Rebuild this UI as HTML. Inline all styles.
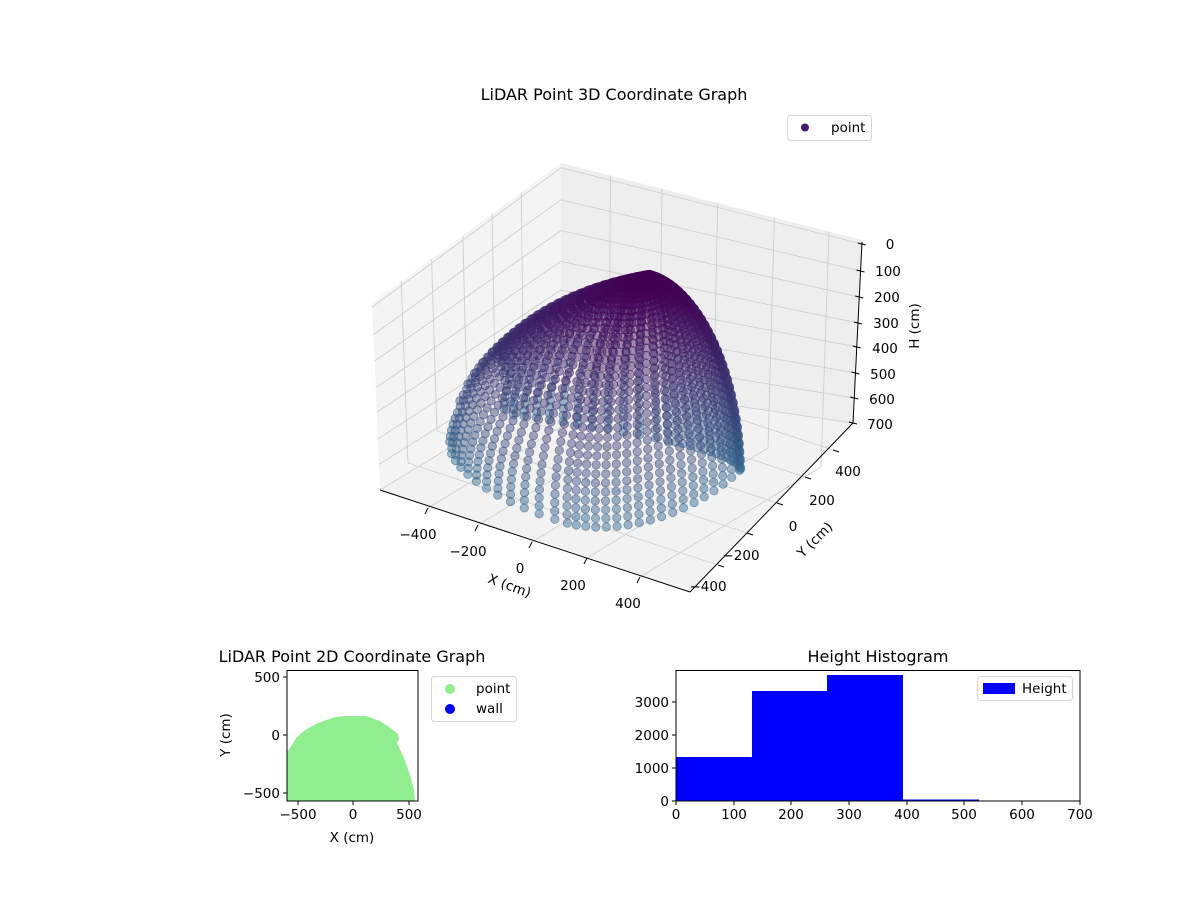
<!DOCTYPE html>
<html><head><meta charset="utf-8"><style>
body{margin:0;background:#fff}
svg{display:block;font-family:"DejaVu Sans","Liberation Sans",sans-serif}
</style></head><body>
<svg id="s" width="1200" height="900" viewBox="0 0 1200 900" xmlns="http://www.w3.org/2000/svg">
<rect width="1200" height="900" fill="#fff"/>
<text x="614" y="100" font-size="16" text-anchor="middle">LiDAR Point 3D Coordinate Graph</text>
<polygon points="561,163 372,303 380,490 561,380" fill="#f4f4f4"/>
<polygon points="561,163 862,240 853,423 561,380" fill="#eeeeee"/>
<polygon points="561,380 380,490 690,592 853,423" fill="#f2f2f2"/>
<g id="grid" stroke="#d0d0d0" stroke-width="0.9" fill="none"></g>
<g id="pts"></g>
<line x1="380" y1="490" x2="690" y2="592" stroke="#000" stroke-width="1"/>
<line x1="690" y1="592" x2="853" y2="423" stroke="#000" stroke-width="1"/>
<line x1="862" y1="242" x2="853" y2="423" stroke="#000" stroke-width="1"/>
<g id="ticks" stroke="#000" stroke-width="1"></g>
<g font-size="13.5" text-anchor="middle">
<text x="418" y="539">−400</text><text x="468" y="556">−200</text><text x="520" y="573">0</text><text x="573" y="590">200</text><text x="628" y="608">400</text>
<text x="708" y="591">−400</text><text x="741" y="560">−200</text><text x="793" y="531">0</text><text x="822" y="505">200</text><text x="848" y="476">400</text>
<text x="890" y="249">0</text><text x="888" y="276">100</text><text x="887" y="302">200</text><text x="886" y="328">300</text><text x="885" y="353">400</text><text x="883" y="379">500</text><text x="882" y="404">600</text><text x="880" y="429">700</text>
</g>
<text font-size="13.5" text-anchor="middle" transform="translate(508,590) rotate(20)">X (cm)</text>
<text font-size="13.5" text-anchor="middle" transform="translate(818,543) rotate(-45)">Y (cm)</text>
<text font-size="13.5" text-anchor="middle" transform="translate(919,326) rotate(-90)">H (cm)</text>
<rect x="787.5" y="115.5" width="84" height="25" rx="3" fill="#fff" stroke="#d6d6d6"/>
<circle cx="805" cy="127.5" r="4" fill="#481a6c"/>
<text x="831" y="132" font-size="13.5">point</text>

<text x="352" y="662" font-size="16" text-anchor="middle">LiDAR Point 2D Coordinate Graph</text>
<polygon points="287,801 287,752 292,745 296,738 305,730 318,723 335,717 345,716 366,716 380,721 392,729 398,734 399,739 397,743 404,758 410,775 414,790 415,801" fill="#90ee90"/>
<rect x="287" y="670.5" width="131" height="130.5" fill="none" stroke="#000"/>
<g stroke="#000"><line x1="298" y1="801" x2="298" y2="805"/><line x1="353" y1="801" x2="353" y2="805"/><line x1="409" y1="801" x2="409" y2="805"/>
<line x1="283" y1="677" x2="287" y2="677"/><line x1="283" y1="735" x2="287" y2="735"/><line x1="283" y1="793" x2="287" y2="793"/></g>
<g font-size="13.5"><text x="298" y="819" text-anchor="middle">−500</text><text x="353" y="819" text-anchor="middle">0</text><text x="409" y="819" text-anchor="middle">500</text>
<text x="280" y="682" text-anchor="end">500</text><text x="280" y="740" text-anchor="end">0</text><text x="280" y="798" text-anchor="end">−500</text>
<text x="352" y="842" text-anchor="middle">X (cm)</text>
<text text-anchor="middle" transform="translate(230,735) rotate(-90)">Y (cm)</text></g>
<rect x="431.5" y="676.5" width="85" height="45" rx="3" fill="#fff" stroke="#d6d6d6"/>
<circle cx="450" cy="689" r="5" fill="#90ee90"/><circle cx="450" cy="709" r="5" fill="#0000ff"/>
<g font-size="13.5"><text x="476" y="693">point</text><text x="476" y="713">wall</text></g>

<text x="878" y="662" font-size="16" text-anchor="middle">Height Histogram</text>
<rect x="676" y="757" width="76" height="44" fill="#0000ff"/>
<rect x="752" y="691" width="76" height="110" fill="#0000ff"/>
<rect x="827" y="675" width="76" height="126" fill="#0000ff"/>
<rect x="903" y="799.5" width="76" height="1.5" fill="#0000ff"/>
<rect x="676" y="670.5" width="404" height="130.5" fill="none" stroke="#000"/>
<g stroke="#000"><line x1="676" y1="801" x2="676" y2="805"/><line x1="734" y1="801" x2="734" y2="805"/><line x1="791" y1="801" x2="791" y2="805"/><line x1="849" y1="801" x2="849" y2="805"/><line x1="907" y1="801" x2="907" y2="805"/><line x1="964" y1="801" x2="964" y2="805"/><line x1="1022" y1="801" x2="1022" y2="805"/><line x1="1080" y1="801" x2="1080" y2="805"/>
<line x1="672" y1="801" x2="676" y2="801"/><line x1="672" y1="768" x2="676" y2="768"/><line x1="672" y1="735" x2="676" y2="735"/><line x1="672" y1="702" x2="676" y2="702"/></g>
<g font-size="13.5" text-anchor="middle"><text x="676" y="819">0</text><text x="734" y="819">100</text><text x="791" y="819">200</text><text x="849" y="819">300</text><text x="907" y="819">400</text><text x="964" y="819">500</text><text x="1022" y="819">600</text><text x="1080" y="819">700</text></g>
<g font-size="13.5" text-anchor="end"><text x="669" y="806">0</text><text x="669" y="773">1000</text><text x="669" y="740">2000</text><text x="669" y="707">3000</text></g>
<rect x="977.5" y="676.5" width="95" height="24" rx="3" fill="#fff" stroke="#d6d6d6"/>
<rect x="983" y="683" width="32" height="11" fill="#0000ff"/>
<text x="1022" y="693" font-size="13.5">Height</text>
</svg>
<script>
(function(){
var NS="http://www.w3.org/2000/svg";
function el(p,t,a){var e=document.createElementNS(NS,t);for(var k in a)e.setAttribute(k,a[k]);p.appendChild(e);return e;}
var g=document.getElementById('grid'),tk=document.getElementById('ticks');
var B=[561,380],L=[380,490],F=[690,592],R=[853,423];
var TB=[561,163],TL=[372,303],TR=[862,240];
var xf=[[428,508],[478,525],[532,542],[587,558],[640,577]];
var dx=[B[0]-L[0],B[1]-L[1]];
xf.forEach(function(p){
  var e=[p[0]+dx[0],p[1]+dx[1]];
  el(g,'line',{x1:p[0],y1:p[1],x2:e[0],y2:e[1]});
  var t=(e[0]-B[0])/(R[0]-B[0]);
  var top=[TB[0]+t*(TR[0]-TB[0]),TB[1]+t*(TR[1]-TB[1])];
  el(g,'line',{x1:e[0],y1:e[1],x2:top[0],y2:top[1]});
  el(tk,'line',{x1:p[0],y1:p[1],x2:p[0]-3,y2:p[1]+6});
});
var yf=[[718,565],[747,533],[777,503],[805,477],[833,450]];
var dy=[L[0]-F[0],L[1]-F[1]];
yf.forEach(function(p){
  var e=[p[0]+dy[0],p[1]+dy[1]];
  el(g,'line',{x1:p[0],y1:p[1],x2:e[0],y2:e[1]});
  var t=(e[0]-L[0])/(B[0]-L[0]);
  var top=[TL[0]+t*(TB[0]-TL[0]),TL[1]+t*(TB[1]-TL[1])];
  el(g,'line',{x1:e[0],y1:e[1],x2:top[0],y2:top[1]});
  el(tk,'line',{x1:p[0],y1:p[1],x2:p[0]+6,y2:p[1]+2});
});
var hy=[244,271,297,323,347,373,398,423];
hy.forEach(function(y){
  var f=(y-240)/(423-240);
  var rxp=862-9*f, by=163+f*217, lx=372+8*f, ly=303+f*187;
  el(g,'line',{x1:rxp,y1:y,x2:561,y2:by});
  el(g,'line',{x1:561,y1:by,x2:lx,y2:ly});
  el(tk,'line',{x1:rxp-4,y1:y-1,x2:rxp+4,y2:y+1});
});
function lerp(a,b,t){return [a[0]+(b[0]-a[0])*t,a[1]+(b[1]-a[1])*t];}
var TF=[TL[0]+TR[0]-TB[0],TL[1]+TR[1]-TB[1]];
function proj(X,Y,H){
  var u=(X+581)/1168, v=(Y+595)/1148;
  var b=lerp(lerp(L,F,u),lerp(B,R,u),v);
  var t=lerp(lerp(TL,TF,u),lerp(TB,TR,u),v);
  var h=(H+10)/710;
  return lerp(t,b,h);
}
function col(h){
  var a=[68,1,84],b=[49,104,142],c=[];
  for(var i=0;i<3;i++)c.push(Math.round(a[i]+(b[i]-a[i])*h));
  return 'rgb('+c.join(',')+')';
}
var pts=[];
var cx=40, cy=110;
var NE=34;
for(var k=0;k<NE;k++){
  var e=(k+0.5)/NE*Math.PI/2;
  var t=Math.cos(e);
  var Hs=690-640*Math.sin(e);
  var Hl=690-640*Math.pow(1-t,0.6);
  var n=70;
  for(var j=0;j<n;j++){
    var ph=2*Math.PI*j/n+k*0.09;
    var sp=Math.sin(ph), cp=Math.cos(ph);
    var rxx = cp<0 ? 700 : 350;
    var ryy = sp<0 ? 580 : 90;
    var X=cx+rxx*t*cp, Y=cy+ryy*t*sp;
    if(X<-560||Y<-560)continue;
    var w=Math.max(0,-cp)*0.7;
    var H=(1-w)*Hs+w*Hl;
    pts.push([X,Y,H]);
  }
}
pts.sort(function(a,b){return (a[0]-a[1])-(b[0]-b[1]);});
var pg=document.getElementById('pts');
pts.forEach(function(p){
  var q=proj(p[0],p[1],p[2]);
  var c=col(Math.min(1,Math.max(0,(p[2]-60)/640)));
  el(pg,'circle',{cx:q[0].toFixed(1),cy:q[1].toFixed(1),r:4.2,fill:c,'fill-opacity':0.45,stroke:c,'stroke-opacity':0.55,'stroke-width':0.8});
});
})();
</script>
</body></html>
